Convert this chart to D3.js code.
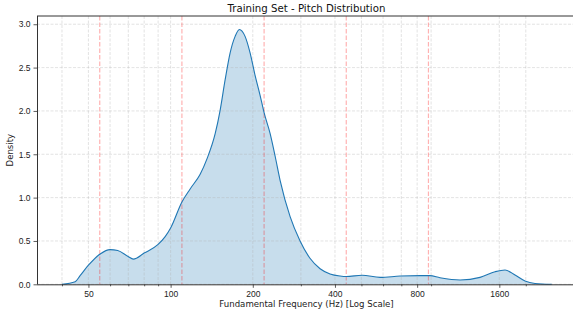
<!DOCTYPE html>
<html>
<head>
<meta charset="utf-8">
<script src="https://cdn.jsdelivr.net/npm/d3@7"></script>
<style>
  body { margin: 0; background: #fff; }
  svg { display: block; font-family: "DejaVu Sans", sans-serif; }
</style>
</head>
<body>
<svg id="chart" width="573" height="316"></svg>
<script>
"use strict";

// pitch density (Hz, density)
let freqs = [40, 44.7, 46.6, 50, 55.2, 60, 64, 69.9, 73, 80, 90, 95.5, 100, 110,
  117.9, 128.3, 136, 145.7, 151.9, 158.4, 165.2, 172.3, 178.6, 187.4, 195.5,
  203.9, 212.7, 220, 231.4, 241.4, 251.8, 274, 298, 324, 352.8, 383.8, 417.6,
  440, 503, 585.6, 692.5, 819.7, 890, 970, 1149, 1360, 1543, 1679, 1827, 1987,
  2162, 2490];
let density = [0, 0.03, 0.1, 0.22, 0.35, 0.4, 0.39, 0.32, 0.29, 0.36, 0.46, 0.55,
  0.65, 0.95, 1.1, 1.27, 1.45, 1.74, 2.01, 2.36, 2.67, 2.86, 2.94, 2.86, 2.67,
  2.41, 2.18, 1.98, 1.74, 1.48, 1.2, 0.78, 0.5, 0.3, 0.18, 0.12, 0.096, 0.09,
  0.105, 0.08, 0.095, 0.1, 0.1, 0.076, 0.05, 0.08, 0.145, 0.165, 0.107, 0.038,
  0.01, 0];

let xTicks = [50, 100, 200, 400, 800, 1600];
let xMinor = [40, 60, 70, 80, 90, 300, 500, 600, 700, 900, 2000];
let yTicks = [0, 0.5, 1.0, 1.5, 2.0, 2.5, 3.0];
let noteLines = [55, 110, 220, 440, 880];

let svg = d3.select("#chart");
let mLeft = 37, mTop = 16, mRight = 576, mBottom = 284.3;

let x = d3.scaleLog().domain([32.4, 3055]).range([mLeft, mRight]);
let y = d3.scaleLinear().domain([0, 3.095]).range([mBottom, mTop]);

let pts = freqs.map((f, i) => ({ f: f, d: density[i] }));

// filled kde
svg.append("path")
  .datum(pts)
  .attr("fill", "#1f77b4")
  .attr("fill-opacity", 0.25)
  .attr("d", d3.area()
    .x((d) => x(d.f))
    .y0(y(0))
    .y1((d) => y(d.d))
    .curve(d3.curveMonotoneX));

// grid, drawn over the fill like matplotlib does
let grid = svg.append("g")
  .attr("stroke", "#b0b0b0")
  .attr("stroke-opacity", 0.45)
  .attr("stroke-width", 0.8)
  .attr("stroke-dasharray", "3,1.5");
grid.selectAll(".gx")
  .data(xTicks.concat(xMinor))
  .enter().append("line")
  .attr("x1", (d) => x(d)).attr("x2", (d) => x(d))
  .attr("y1", mTop).attr("y2", mBottom);
grid.selectAll(".gy")
  .data(yTicks)
  .enter().append("line")
  .attr("x1", mLeft).attr("x2", mRight)
  .attr("y1", (d) => y(d)).attr("y2", (d) => y(d));

// A notes
svg.append("g")
  .selectAll("line")
  .data(noteLines)
  .enter().append("line")
  .attr("x1", (d) => x(d)).attr("x2", (d) => x(d))
  .attr("y1", mTop).attr("y2", mBottom)
  .attr("stroke", "red")
  .attr("stroke-opacity", 0.3)
  .attr("stroke-width", 1.2)
  .attr("stroke-dasharray", "4.5,2");

svg.append("path")
  .datum(pts)
  .attr("fill", "none")
  .attr("stroke", "#1f77b4")
  .attr("stroke-width", 1.1)
  .attr("d", d3.line()
    .x((d) => x(d.f))
    .y((d) => y(d.d))
    .curve(d3.curveMonotoneX));

// axes
let xAxis = svg.append("g")
  .attr("transform", `translate(0,${mBottom})`)
  .call(d3.axisBottom(x).tickValues(xTicks).tickFormat(d3.format("d"))
    .tickSize(3.5).tickPadding(3));
svg.append("g")
  .attr("transform", `translate(0,${mBottom})`)
  .call(d3.axisBottom(x).tickValues(xMinor).tickFormat("").tickSize(2))
  .call((g) => g.select(".domain").remove());
let yAxis = svg.append("g")
  .attr("transform", `translate(${mLeft},0)`)
  .call(d3.axisLeft(y).tickValues(yTicks).tickFormat(d3.format(".1f"))
    .tickSize(3.5).tickPadding(3));

svg.selectAll(".tick text").attr("font-size", 8.5).attr("fill", "#222");
svg.selectAll(".tick line").attr("stroke", "#333").attr("stroke-width", 0.8);
svg.selectAll(".domain").attr("stroke", "#333").attr("stroke-width", 1);
xAxis.select(".domain").attr("d", `M${mLeft},0.5H${mRight}`);
yAxis.select(".domain").attr("d", `M0.5,${mBottom}V${mTop}`);

svg.append("line")
  .attr("x1", mLeft).attr("x2", mRight)
  .attr("y1", mTop).attr("y2", mTop)
  .attr("stroke", "#333").attr("stroke-width", 1);

svg.append("text")
  .attr("x", (mLeft + mRight) / 2).attr("y", 12)
  .attr("text-anchor", "middle")
  .attr("font-size", 10.2).attr("fill", "#111")
  .text("Training Set - Pitch Distribution");

svg.append("text")
  .attr("x", (mLeft + mRight) / 2).attr("y", 307)
  .attr("text-anchor", "middle")
  .attr("font-size", 8.6).attr("fill", "#222")
  .text("Fundamental Frequency (Hz) [Log Scale]");

svg.append("text")
  .attr("transform", `translate(13,${(mTop + mBottom) / 2}) rotate(-90)`)
  .attr("text-anchor", "middle")
  .attr("font-size", 8.6).attr("fill", "#222")
  .text("Density");
</script>
</body>
</html>
